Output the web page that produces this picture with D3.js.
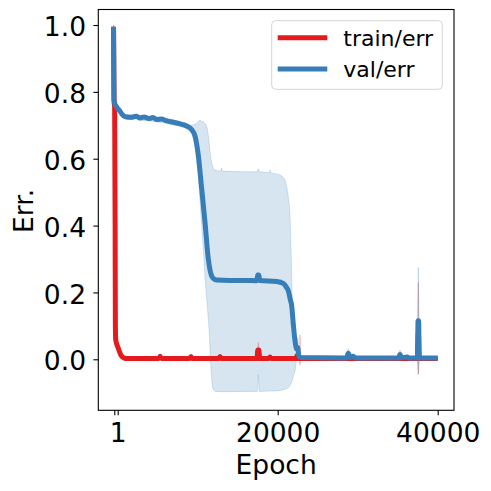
<!DOCTYPE html>
<html>
<head>
<meta charset="utf-8">
<script src="https://cdn.jsdelivr.net/npm/d3@7"></script>
<style>
  html, body { margin: 0; padding: 0; background: #fff; }
  svg { display: block; font-family: "DejaVu Sans", sans-serif; }
</style>
</head>
<body>
<svg id="chart" width="491" height="491"></svg>
<script>
// ---------------- data ----------------
const seriesNames = ["train/err", "val/err"];
const seriesColors = ["#e41a1c", "#377eb8"];

// train/err mean
const trainEpochs = [-520, -450, -380, -320, -290, -250, -150, 76, 300, 501, 800, 1126,
  5150, 5300, 5450, 9000, 9163, 9300, 12650, 12788, 12930, 17400, 17520, 17640, 17760,
  18900, 19038, 19180, 22300, 22440, 22580, 37450, 37576, 37700, 40000];
const trainMean = [0.995, 0.77, 0.755, 0.4, 0.1, 0.06, 0.048, 0.033, 0.018, 0.009, 0.004, 0.002,
  0.002, 0.009, 0.002, 0.002, 0.008, 0.002, 0.002, 0.008, 0.002, 0.002, 0.028, 0.028, 0.002,
  0.002, 0.007, 0.002, 0.002, 0.012, 0.002, 0.002, 0.08, 0.002, 0.002];

// train/err band (mean ± std)
const trainBandEpochs = [-520, -450, -380, -320, -290, -250, 76, 501, 1126, 17450, 17576, 17700,
  22700, 22788, 22880, 37450, 37576, 37700, 40000];
const trainLower = [0.99, 0.76, 0.745, 0.38, 0.09, 0.05, 0.028, 0.005, -0.001, -0.001, -0.005, -0.001,
  -0.001, -0.017, -0.001, -0.001, -0.045, -0.001, -0.001];
const trainUpper = [1.0, 0.78, 0.765, 0.42, 0.11, 0.07, 0.038, 0.013, 0.005, 0.005, 0.05, 0.005,
  0.005, 0.073, 0.005, 0.005, 0.23, 0.005, 0.005];

// val/err mean
const valEpochs = [-520, -470, -400, -120, 290, 700, 1100, 1700, 2300, 2800, 3300, 3900, 4400,
  4900, 5500, 6000, 6950, 7800, 8600, 9250, 9660, 10076, 10500, 10913, 11326, 11600, 11900,
  12376, 14000, 16100, 17400, 17500, 17650, 17750, 19876, 20701, 21100, 21326, 21560, 21751,
  21951, 22163, 22376, 22500, 22650, 22900, 28600, 28826, 29050, 29451, 29700, 35100, 35288,
  35500, 36201, 36400, 37480, 37540, 37620, 37680, 40000];
const valMean = [0.995, 0.78, 0.768, 0.755, 0.742, 0.729, 0.725, 0.724, 0.727, 0.722, 0.725, 0.720, 0.723,
  0.717, 0.719, 0.714, 0.709, 0.704, 0.698, 0.687, 0.668, 0.61, 0.51, 0.41, 0.30, 0.26, 0.243,
  0.237, 0.236, 0.236, 0.235, 0.252, 0.252, 0.236, 0.233, 0.227, 0.215, 0.205, 0.18, 0.16,
  0.105, 0.055, 0.03, 0.035, 0.01, 0.005, 0.004, 0.018, 0.005, 0.009, 0.004, 0.004, 0.014,
  0.004, 0.007, 0.004, 0.004, 0.115, 0.115, 0.004, 0.004];

// val/err band (mean ± std)
const valBandEpochs = [-520, -470, -400, -120, 290, 700, 1700, 2300, 2800, 3900, 4900, 6000, 6950,
  7800, 8600, 9250, 9660, 10076, 10300, 10500, 10700, 10913, 11130, 11326, 11450, 11600, 11750,
  11950, 12200, 12900, 12976, 13050, 16100, 17450, 17576, 17700, 18950, 19038, 19120, 20288,
  20913, 21126, 21326, 21538, 21663, 21800, 21951, 22163, 22376, 22500, 22650, 22900, 28600,
  28826, 29050, 29451, 29700, 35100, 35288, 35500, 36201, 36400, 37480, 37576, 37680, 40000];
const valLower = [0.99, 0.77, 0.76, 0.748, 0.735, 0.722, 0.717, 0.72, 0.715, 0.713, 0.710, 0.707, 0.702,
  0.697, 0.690, 0.674, 0.64, 0.55, 0.47, 0.40, 0.33, 0.25, 0.18, 0.12, 0.08, 0.0, -0.06,
  -0.09, -0.096, -0.097, -0.097, -0.097, -0.096, -0.096, -0.045, -0.096, -0.095, -0.095, -0.095, -0.093,
  -0.09, -0.088, -0.085, -0.078, -0.072, -0.064, -0.05, -0.035, 0.0, 0.005, 0.0, 0.0, 0.0,
  0.005, 0.0, 0.003, 0.0, 0.0, 0.0, 0.0, 0.002, 0.0, 0.0, -0.045, 0.0, 0.0];
const valUpper = [1.0, 0.79, 0.776, 0.762, 0.749, 0.736, 0.731, 0.734, 0.729, 0.727, 0.724, 0.721, 0.716,
  0.711, 0.706, 0.700, 0.703, 0.710, 0.716, 0.712, 0.711, 0.705, 0.696, 0.67, 0.645, 0.61, 0.588,
  0.572, 0.566, 0.563, 0.572, 0.563, 0.561, 0.561, 0.57, 0.561, 0.559, 0.567, 0.559, 0.551,
  0.536, 0.515, 0.486, 0.427, 0.33, 0.2, 0.09, 0.06, 0.045, 0.065, 0.02, 0.01, 0.008,
  0.032, 0.01, 0.016, 0.008, 0.008, 0.028, 0.008, 0.013, 0.008, 0.008, 0.275, 0.008, 0.008];

const xTickValues = [1, 20000, 40000];
const xTickLabels = ["1", "20000", "40000"];
const xExtraTicks = [-424];
const yTickValues = [0, 0.2, 0.4, 0.6, 0.8, 1.0];
const yTickLabels = ["0.0", "0.2", "0.4", "0.6", "0.8", "1.0"];
const xLabel = "Epoch";
const yLabel = "Err.";

// ---------------- layout ----------------
const L = 98.3, R = 454, T = 9.5, B = 410.3;
const svg = d3.select("#chart");
const x = d3.scaleLinear().domain([-2424, 42037]).range([L, R]);
const y = d3.scaleLinear().domain([-0.1526, 1.0464]).range([B, T]);

const zip = (xs, ys) => xs.map((e, i) => [e, ys[i]]);
const zip3 = (xs, lo, hi) => xs.map((e, i) => [e, lo[i], hi[i]]);

const clip = svg.append("clipPath").attr("id", "clip")
  .append("rect").attr("x", L).attr("y", T).attr("width", R - L).attr("height", B - T);

const plot = svg.append("g").attr("clip-path", "url(#clip)");

const area = d3.area().x(d => x(d[0])).y0(d => y(d[1])).y1(d => y(d[2])).curve(d3.curveMonotoneX);
const line = d3.line().x(d => x(d[0])).y(d => y(d[1])).curve(d3.curveMonotoneX);

const bands = [zip3(trainBandEpochs, trainLower, trainUpper), zip3(valBandEpochs, valLower, valUpper)];
const means = [zip(trainEpochs, trainMean), zip(valEpochs, valMean)];

bands.forEach((b, i) => {
  plot.append("path").datum(b).attr("d", area)
    .attr("fill", seriesColors[i]).attr("fill-opacity", 0.2)
    .attr("stroke", seriesColors[i]).attr("stroke-opacity", 0.2).attr("stroke-width", 1);
});
means.forEach((m, i) => {
  plot.append("path").datum(m).attr("d", line)
    .attr("fill", "none").attr("stroke", seriesColors[i]).attr("stroke-width", 5)
    .attr("stroke-linejoin", "round").attr("stroke-linecap", "butt");
});

// ---------------- axes ----------------
const fs = 26.5;
const xAxis = d3.axisBottom(x).tickValues(xTickValues.concat(xExtraTicks))
  .tickFormat(d => { const k = xTickValues.indexOf(d); return k >= 0 ? xTickLabels[k] : ""; })
  .tickSize(4.9).tickSizeOuter(0);
const gx = svg.append("g").attr("transform", `translate(0,${B})`).call(xAxis);
gx.select(".domain").remove();
gx.selectAll(".tick line").attr("stroke", "#000").attr("stroke-width", 1.1);
gx.selectAll(".tick text").attr("dy", null).attr("y", 31.4)
  .attr("font-size", fs).attr("font-family", "DejaVu Sans").attr("fill", "#000");

const yAxis = d3.axisLeft(y).tickValues(yTickValues)
  .tickFormat((d, i) => yTickLabels[i]).tickSize(4.9).tickSizeOuter(0);
const gy = svg.append("g").attr("transform", `translate(${L},0)`).call(yAxis);
gy.select(".domain").remove();
gy.selectAll(".tick line").attr("stroke", "#000").attr("stroke-width", 1.1);
gy.selectAll(".tick text").attr("dy", null).attr("x", -12.3).attr("y", 10.7)
  .attr("font-size", fs).attr("font-family", "DejaVu Sans").attr("fill", "#000");

// frame
svg.append("rect").attr("x", L).attr("y", T).attr("width", R - L).attr("height", B - T)
  .attr("fill", "none").attr("stroke", "#000").attr("stroke-width", 1.1);

// labels
svg.append("text").attr("x", (L + R) / 2).attr("y", 474.3).attr("text-anchor", "middle")
  .attr("font-size", fs).attr("fill", "#000").text(xLabel);
svg.append("text").attr("transform", `translate(33.3,${(T + B) / 2 + 1}) rotate(-90)`)
  .attr("text-anchor", "middle").attr("font-size", fs).attr("fill", "#000").text(yLabel);

// ---------------- legend ----------------
const lg = svg.append("g");
lg.append("rect").attr("x", 271.7).attr("y", 20.7).attr("width", 170.6).attr("height", 68.6)
  .attr("rx", 4).attr("fill", "#fff").attr("fill-opacity", 0.8)
  .attr("stroke", "#d6d6d6").attr("stroke-width", 1);
seriesNames.forEach((name, i) => {
  const cy = 37.7 + i * 31.3;
  lg.append("line").attr("x1", 277.7).attr("x2", 327.3).attr("y1", cy).attr("y2", cy)
    .attr("stroke", seriesColors[i]).attr("stroke-width", 5);
  lg.append("text").attr("x", 343.3).attr("y", cy + 8).attr("font-size", 22)
    .attr("fill", "#000").text(name);
});
</script>
</body>
</html>
